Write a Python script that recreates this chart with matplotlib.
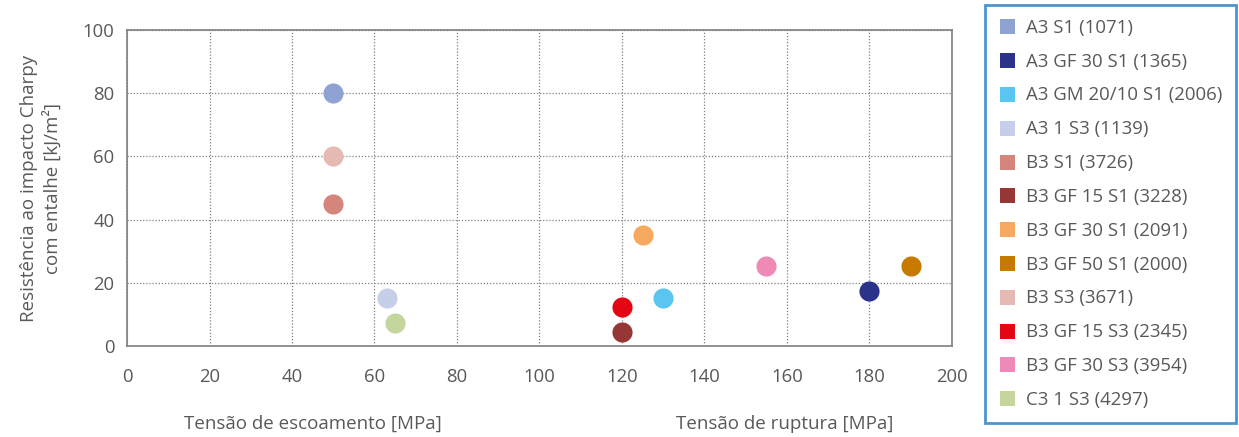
import matplotlib
matplotlib.use("Agg")
import matplotlib.pyplot as plt
from matplotlib.lines import Line2D

plt.rcParams['font.family'] = ['Open Sans', 'DejaVu Sans']

labels = ["A3 S1 (1071)", "A3 GF 30 S1 (1365)", "A3 GM 20/10 S1 (2006)", "A3 1 S3 (1139)",
          "B3 S1 (3726)", "B3 GF 15 S1 (3228)", "B3 GF 30 S1 (2091)", "B3 GF 50 S1 (2000)",
          "B3 S3 (3671)", "B3 GF 15 S3 (2345)", "B3 GF 30 S3 (3954)", "C3 1 S3 (4297)"]
x_vals = [50, 180, 130, 63, 50, 120, 125, 190, 50, 120, 155, 65]
y_vals = [80, 17.5, 15.3, 15.3, 45, 4.3, 35, 25.2, 60, 12.2, 25.2, 7.3]
colors = ["#8EA3D3", "#2A3389", "#5BC5F2", "#C6CEEA", "#D4857C", "#953735", "#F7A95F",
          "#C77A00", "#E6B9B3", "#E30613", "#EF89B5", "#C4D69C"]
x_ticks = [0, 20, 40, 60, 80, 100, 120, 140, 160, 180, 200]
y_ticks = [0, 20, 40, 60, 80, 100]

fig = plt.figure(figsize=(12.39, 4.37), dpi=100)
ax = fig.add_axes([127/1239, 1-346/437, (952-127)/1239, (346-30)/437])

for xv, yv, c in zip(x_vals, y_vals, colors):
    ax.scatter(xv, yv, s=210, color=c, zorder=3, linewidths=0)

ax.set_xlim(0, 200)
ax.set_ylim(0, 100)
ax.set_xticks(x_ticks)
ax.set_yticks(y_ticks)
ax.grid(True, linestyle=(0, (1, 1.5)), color="#808080", linewidth=0.9)
ax.tick_params(length=0, labelsize=13.3, colors="#595959")
ax.tick_params(axis="x", pad=15.5)
ax.tick_params(axis="y", pad=9)
for sp in ax.spines.values():
    sp.set_color("#7F7F7F")
    sp.set_linewidth(1.2)

gray = "#595959"
fig.text(313/1239, 1-424/437, "Tensão de escoamento [MPa]", ha="center", va="center", fontsize=13.5, color=gray)
fig.text(785/1239, 1-424/437, "Tensão de ruptura [MPa]", ha="center", va="center", fontsize=13.5, color=gray)
fig.text(41/1239, 1-188/437, "Resistência ao impacto Charpy\ncom entalhe [kJ/m²]", ha="center", va="center",
         rotation=90, fontsize=13.5, color=gray, linespacing=1.25)

handles = [Line2D([], [], marker="s", linestyle="", markersize=10.8, markerfacecolor=c, markeredgewidth=0)
           for c in colors]
leg = fig.legend(handles, labels, loc="upper left", bbox_to_anchor=(985/1239, 1-5/437),
                 frameon=True, fancybox=False, fontsize=13.4, labelcolor=gray,
                 handlelength=0.9, handletextpad=0.55, labelspacing=0.85, borderpad=0.74,
                 borderaxespad=0)
leg.get_frame().set_edgecolor("#1F7BC0")
leg.get_frame().set_linewidth(2)

fig.savefig("out.png", dpi=100)
